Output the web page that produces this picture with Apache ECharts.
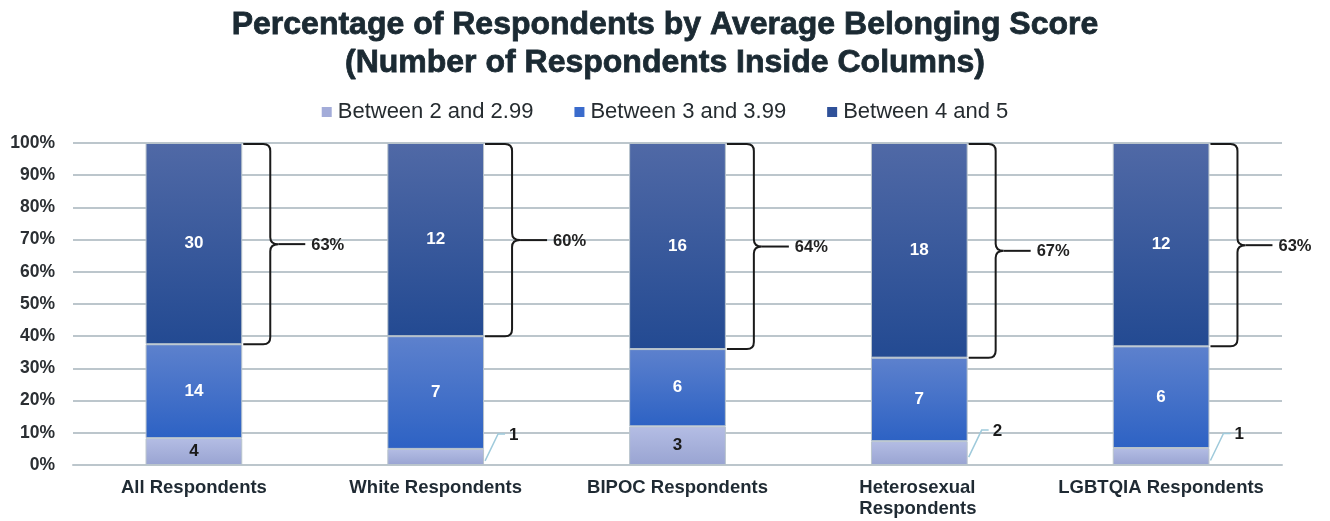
<!DOCTYPE html>
<html><head><meta charset="utf-8">
<script src="https://cdn.jsdelivr.net/npm/echarts@6/dist/echarts.min.js"></script>
<style>html,body{margin:0;padding:0;background:#fff}#c{width:1330px;height:521px}</style>
</head><body><div id="c"></div>
<script>
const titleLines = ['Percentage of Respondents by Average Belonging Score','(Number of Respondents Inside Columns)'];
const categories = ['All Respondents','White Respondents','BIPOC Respondents','Heterosexual\nRespondents','LGBTQIA Respondents'];
const seriesNames = ['Between 2 and 2.99','Between 3 and 3.99','Between 4 and 5'];
const lowCounts = [4,1,3,2,1];
const midCounts = [14,7,6,7,6];
const highCounts = [30,12,16,18,12];
const yTicks = [0,10,20,30,40,50,60,70,80,90,100];

const totals = categories.map((c,i)=>lowCounts[i]+midCounts[i]+highCounts[i]);
const toPct = arr => arr.map((v,i)=>v/totals[i]*100);
const pLow = toPct(lowCounts), pMid = toPct(midCounts), pHigh = toPct(highCounts);
const FONT = 'Liberation Sans, Arial, sans-serif';
const legendColors = ['#a3acd9','#3a6bcc','#2f5199'];
const grad = (a,b)=>new echarts.graphic.LinearGradient(0,0,0,1,[{offset:0,color:a},{offset:1,color:b}]);

const chart = echarts.init(document.getElementById('c'));
const barW = 0.4;
function makeBar(name, pcts, counts, c1, c2, labelColor, hideSmall){
  return {
    name, type:'bar', stack:'s', barWidth:(barW*100)+'%',
    itemStyle:{color:grad(c1,c2), borderColor:'#b9c4cc', borderWidth:1},
    label:{show:true, position:'inside', color:labelColor, fontWeight:'bold', fontSize:17, fontFamily:FONT,
      formatter:p=>counts[p.dataIndex]},
    data: pcts.map((v,i)=>({value:v, label:{show: !(hideSmall && v<8)}})),
    emphasis:{disabled:true}
  };
}
const option = {
  animation:false,
  color:legendColors,
  title:{text:titleLines.join('\n'), left:'center', top:1,
    textStyle:{fontFamily:FONT, fontSize:32, fontWeight:'bold', color:'#1b2a33', lineHeight:38,
      textBorderColor:'#1b2a33', textBorderWidth:0.8}},
  legend:{top:96, left:'center', itemWidth:10, itemHeight:10, itemGap:41, icon:'rect',
    textStyle:{fontFamily:FONT, fontSize:22, color:'#262c30', padding:[0,0,0,1]},
    data:seriesNames.map((n,i)=>({name:n, itemStyle:{color:legendColors[i], borderWidth:0}}))},
  grid:{left:73, right:48, top:143, bottom:56},
  xAxis:{type:'category', data:categories, axisTick:{show:false},
    axisLine:{lineStyle:{color:'#bcc6cc', width:2}},
    axisLabel:{fontFamily:FONT, fontSize:18.5, fontWeight:'bold', color:'#1f2a33', margin:12, lineHeight:21, interval:0,
      formatter:v=> v.indexOf('\n')>=0 ? v.split('\n').map(s=>'{l|'+s+'}').join('\n') : v,
      rich:{l:{width:120, align:'left', fontFamily:FONT, fontSize:18.5, fontWeight:'bold', color:'#1f2a33', lineHeight:21}}}},
  yAxis:{type:'value', min:0, max:100, interval:10,
    axisLabel:{formatter:'{value}%', fontFamily:FONT, fontSize:17.5, fontWeight:'bold', color:'#2b2f33', margin:18},
    splitLine:{lineStyle:{color:'#bcc6cc', width:2}}, axisLine:{show:false}, axisTick:{show:false}},
  series:[
    makeBar(seriesNames[0], pLow, lowCounts, '#b4bde4', '#99a4d2', '#1a1a1a', true),
    makeBar(seriesNames[1], pMid, midCounts, '#5d81cd', '#2d62c4', '#ffffff', false),
    makeBar(seriesNames[2], pHigh, highCounts, '#5069a6', '#234a92', '#ffffff', false),
    {
      type:'custom', name:'brackets', silent:true, z:10,
      data: categories.map((c,i)=>[i, pLow[i]+pMid[i], 100, Math.round(pHigh[i])]),
      renderItem:(params, api)=>{
        const i = api.value(0);
        const top = api.coord([i, api.value(2)]);
        const bot = api.coord([i, api.value(1)]);
        const bw = api.size([1,0])[0]*barW;
        const xr = top[0] + bw/2 + 1;
        const x0 = xr + 27, r = 7, t = top[1]+1, b = bot[1], m = (t+b)/2;
        const d = `M${xr} ${t} L${x0-r} ${t} Q${x0} ${t} ${x0} ${t+r} L${x0} ${m-r} Q${x0} ${m} ${x0+8} ${m} Q${x0} ${m} ${x0} ${m+r} L${x0} ${b-r} Q${x0} ${b} ${x0-r} ${b} L${xr} ${b}`;
        return {type:'group', children:[
          {type:'path', shape:{pathData:d}, style:{fill:null, stroke:'#1a1a1a', lineWidth:2}},
          {type:'line', shape:{x1:x0+8, y1:m, x2:x0+35, y2:m}, style:{stroke:'#1a1a1a', lineWidth:2}},
          {type:'text', style:{text:api.value(3)+'%', x:x0+41, y:m+1, verticalAlign:'middle', align:'left',
            font:'bold 16.5px '+FONT, fill:'#222'}}
        ]};
      }
    },
    {
      type:'custom', name:'leaders', silent:true, z:10,
      data: categories.map((c,i)=>[i, pLow[i], lowCounts[i]]).filter(d=>d[1]<8),
      renderItem:(params, api)=>{
        const i = api.value(0);
        const p = api.coord([i, api.value(1)/2]);
        const bw = api.size([1,0])[0]*barW;
        const xr = p[0] + bw/2 + 1;
        const ly = p[1] - 23;
        return {type:'group', children:[
          {type:'polyline', shape:{points:[[xr, p[1]+4],[xr+13, ly],[xr+20, ly]]}, style:{fill:null, stroke:'#9fcadb', lineWidth:1.5}},
          {type:'text', style:{text:String(api.value(2)), x:xr+24, y:ly+1, verticalAlign:'middle', align:'left',
            font:'bold 17px '+FONT, fill:'#1a1a1a'}}
        ]};
      }
    }
  ]
};
chart.setOption(option);
</script></body></html>
